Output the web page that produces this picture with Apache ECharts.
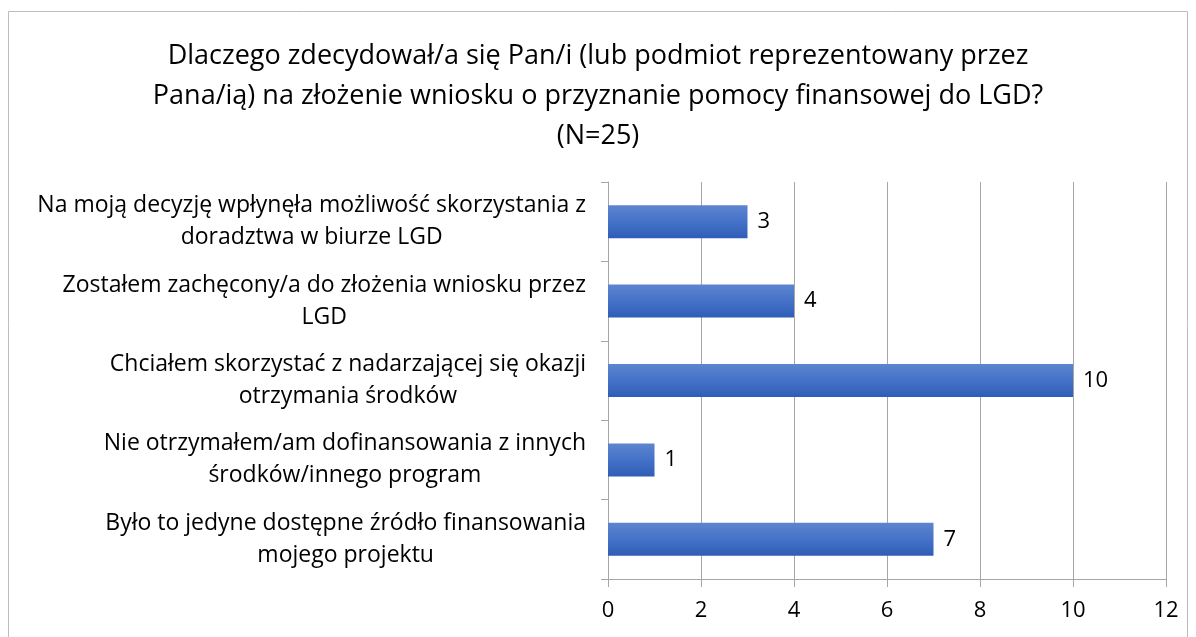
<!DOCTYPE html>
<html lang="pl">
<head>
<meta charset="UTF-8">
<title>LGD</title>
<script src="https://cdn.jsdelivr.net/npm/echarts@6/dist/echarts.min.js"></script>
<style>
    body { margin: 0; background: #fff; }
    #chart { width: 1196px; height: 637px; }
</style>
</head>
<body>
<div id="chart"></div>
<script>
    // dane z wykresu
    var categories = [
        'Na moją decyzję wpłynęła możliwość skorzystania z\ndoradztwa w biurze LGD',
        'Zostałem zachęcony/a do złożenia wniosku przez\nLGD',
        'Chciałem skorzystać z nadarzającej się okazji\notrzymania środków',
        'Nie otrzymałem/am dofinansowania z innych\nśrodków/innego program',
        'Było to jedyne dostępne źródło finansowania\nmojego projektu'
    ];
    var values = [3, 4, 10, 1, 7];
    var titleText = 'Dlaczego zdecydował/a się Pan/i (lub podmiot reprezentowany przez\nPana/ią) na złożenie wniosku o przyznanie pomocy finansowej do LGD?\n(N=25)';

    var font = 'Open Sans';
    var myChart = echarts.init(document.getElementById('chart'));
    var option = {
        animation: false,
        graphic: [{
            type: 'rect',
            shape: { x: 8.5, y: 11.5, width: 1179, height: 640 },
            style: { fill: 'none', stroke: '#bdbdbd', lineWidth: 1 },
            silent: true
        }],
        title: {
            text: titleText,
            left: 'center',
            top: 31,
            textStyle: {
                fontFamily: font,
                fontSize: 27,
                fontWeight: 'normal',
                color: '#000',
                lineHeight: 40
            }
        },
        grid: { left: 608, right: 30, top: 182, bottom: 58 },
        xAxis: {
            type: 'value',
            min: 0,
            max: 12,
            interval: 2,
            axisLine: { show: true, lineStyle: { color: '#a6a6a6' } },
            axisTick: { show: true, length: 8, lineStyle: { color: '#a6a6a6' } },
            axisLabel: { fontFamily: font, fontSize: 22, color: '#000', margin: 21 },
            splitLine: { show: true, lineStyle: { color: '#a6a6a6' } }
        },
        yAxis: {
            type: 'category',
            inverse: true,
            data: categories,
            axisLine: { show: true, lineStyle: { color: '#a6a6a6' } },
            axisTick: { show: true, length: 7, lineStyle: { color: '#a6a6a6' } },
            axisLabel: {
                margin: 22,
                formatter: function (v) {
                    return v.split('\n').map(function (s) { return '{c|' + s + '}'; }).join('\n');
                },
                rich: {
                    c: { fontFamily: font, fontSize: 23, color: '#000', align: 'center', lineHeight: 32 }
                }
            }
        },
        series: [{
            type: 'bar',
            data: values,
            barWidth: 33,
            itemStyle: {
                color: new echarts.graphic.LinearGradient(0, 0, 0, 1, [
                    { offset: 0, color: '#5d85cf' },
                    { offset: 0.5, color: '#4572c8' },
                    { offset: 1, color: '#2f5db6' }
                ])
            },
            label: {
                show: true,
                position: 'right',
                distance: 10,
                fontFamily: font,
                fontSize: 22,
                color: '#000'
            }
        }]
    };
    myChart.setOption(option);
</script>
</body>
</html>
